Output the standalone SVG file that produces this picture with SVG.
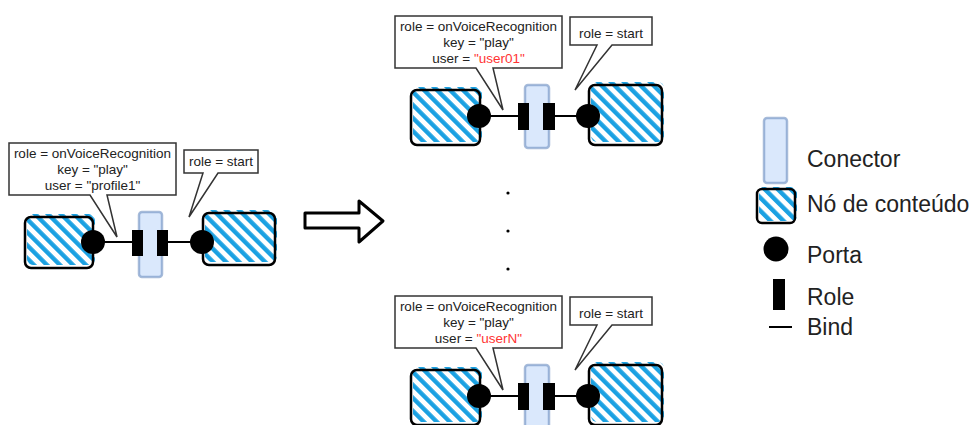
<svg xmlns="http://www.w3.org/2000/svg" width="977" height="425" viewBox="0 0 977 425">
<style>
.callout{fill:#fff;stroke:#333;stroke-width:1.5;stroke-linejoin:miter}
.ct{font-family:"Liberation Sans",Arial,sans-serif;font-size:13.5px;fill:#222;text-anchor:middle}
.red{fill:#ff3333}
.hatch{fill:url(#hatch);stroke:none}
.nodeo{fill:none;stroke:#000;stroke-width:2.5}
.conn{fill:#dae8fc;stroke:#6c8ebf;stroke-opacity:0.6;stroke-width:2.5}
.bind{stroke:#000;stroke-width:2}
.role{fill:#000}
.port{fill:#000}
.leg{font-family:"Liberation Sans",Arial,sans-serif;font-size:23px;fill:#222}
</style>
<defs>
<pattern id="hatch" patternUnits="userSpaceOnUse" width="9.2" height="9.2" patternTransform="rotate(-45)">
<rect x="0" y="0" width="4.4" height="9.2" fill="#1ba1e2"/>
</pattern>
</defs>

<!-- Left composite -->
<g id="left-callout-1">
<path class="callout" d="M9,143 H176 V195 H107 L117,237 L90,195 H9 Z"/>
<text class="ct" x="92.5" y="158">role = onVoiceRecognition</text>
<text class="ct" x="92.5" y="174">key = "play"</text>
<text class="ct" x="92.5" y="190">user = "profile1"</text>
</g>
<g id="left-callout-2">
<path class="callout" d="M184,150 H258 V173 H218 L189,217 L203,173 H184 Z"/>
<text class="ct" x="221" y="166">role = start</text>
</g>
<g id="left-node-a">
<rect class="hatch" x="27" y="214" width="68" height="51" rx="6"/>
<rect class="nodeo" x="25" y="217" width="68" height="51" rx="6"/>
</g>
<g id="left-node-b">
<rect class="hatch" x="205" y="210" width="72" height="52" rx="6"/>
<rect class="nodeo" x="203" y="213" width="72" height="52" rx="6"/>
</g>
<g id="left-connector"><rect class="conn" x="139" y="212" width="23" height="65" rx="3"/></g>
<g id="left-binds">
<line class="bind" x1="93" y1="242" x2="133" y2="242"/>
<line class="bind" x1="167" y1="242" x2="202" y2="242"/>
</g>
<g id="left-role-a"><rect class="role" x="132" y="230" width="11" height="26"/></g>
<g id="left-role-b"><rect class="role" x="157" y="230" width="11" height="26"/></g>
<g id="left-port-a"><circle class="port" cx="93" cy="242" r="12"/></g>
<g id="left-port-b"><circle class="port" cx="202" cy="242" r="12"/></g>

<!-- Top composite -->
<g transform="translate(386,-127)">
<g id="top-callout-1">
<path class="callout" d="M9,143 H176 V195 H107 L117,237 L90,195 H9 Z"/>
<text class="ct" x="92.5" y="158">role = onVoiceRecognition</text>
<text class="ct" x="92.5" y="174">key = "play"</text>
<text class="ct" x="92.5" y="190">user = <tspan class="red">"user01"</tspan></text>
</g>
<g id="top-callout-2">
<path class="callout" d="M184,144 H266 V172 H226 L189,217 L211,172 H184 Z"/>
<text class="ct" x="225" y="165">role = start</text>
</g>
<g id="top-node-a">
<rect class="hatch" x="27" y="214" width="69" height="55" rx="6"/>
<rect class="nodeo" x="25" y="217" width="69" height="55" rx="6"/>
</g>
<g id="top-node-b">
<rect class="hatch" x="205" y="209" width="73" height="60" rx="6"/>
<rect class="nodeo" x="203" y="212" width="73" height="60" rx="6"/>
</g>
<g id="top-connector"><rect class="conn" x="139" y="212" width="24" height="63" rx="3"/></g>
<g id="top-binds">
<line class="bind" x1="93" y1="243" x2="133" y2="243"/>
<line class="bind" x1="167" y1="243" x2="202" y2="243"/>
</g>
<g id="top-role-a"><rect class="role" x="132" y="230" width="11" height="27"/></g>
<g id="top-role-b"><rect class="role" x="157" y="230" width="12" height="27"/></g>
<g id="top-port-a"><circle class="port" cx="93" cy="243" r="12"/></g>
<g id="top-port-b"><circle class="port" cx="202" cy="243" r="12"/></g>
</g>

<!-- Bottom composite -->
<g transform="translate(386,153)">
<g id="bottom-callout-1">
<path class="callout" d="M9,143 H176 V195 H107 L117,237 L90,195 H9 Z"/>
<text class="ct" x="92.5" y="158">role = onVoiceRecognition</text>
<text class="ct" x="92.5" y="174">key = "play"</text>
<text class="ct" x="92.5" y="190">user = <tspan class="red">"userN"</tspan></text>
</g>
<g id="bottom-callout-2">
<path class="callout" d="M184,144 H266 V172 H226 L189,217 L211,172 H184 Z"/>
<text class="ct" x="225" y="165">role = start</text>
</g>
<g id="bottom-node-a">
<rect class="hatch" x="27" y="214" width="69" height="55" rx="6"/>
<rect class="nodeo" x="25" y="217" width="69" height="55" rx="6"/>
</g>
<g id="bottom-node-b">
<rect class="hatch" x="205" y="209" width="73" height="60" rx="6"/>
<rect class="nodeo" x="203" y="212" width="73" height="60" rx="6"/>
</g>
<g id="bottom-connector"><rect class="conn" x="139" y="212" width="24" height="63" rx="3"/></g>
<g id="bottom-binds">
<line class="bind" x1="93" y1="243" x2="133" y2="243"/>
<line class="bind" x1="167" y1="243" x2="202" y2="243"/>
</g>
<g id="bottom-role-a"><rect class="role" x="132" y="230" width="11" height="27"/></g>
<g id="bottom-role-b"><rect class="role" x="157" y="230" width="12" height="27"/></g>
<g id="bottom-port-a"><circle class="port" cx="93" cy="243" r="12"/></g>
<g id="bottom-port-b"><circle class="port" cx="202" cy="243" r="12"/></g>
</g>

<!-- Transformation arrow -->
<g id="arrow">
<polygon points="305,213 359,213 359,201 383,221 359,242 359,228 305,228" fill="#fff" stroke="#000" stroke-width="3" stroke-linejoin="round"/>
</g>
<g id="ellipsis">
<circle cx="508" cy="193" r="1.6" fill="#000"/>
<circle cx="508" cy="231" r="1.6" fill="#000"/>
<circle cx="508" cy="269" r="1.6" fill="#000"/>
</g>

<!-- Legend -->
<g id="legend">
<rect class="conn" x="764" y="118" width="23" height="65" rx="3"/>
<text class="leg" x="807" y="167">Conector</text>
<rect class="hatch" x="759" y="187" width="38" height="34" rx="5"/>
<rect class="nodeo" x="757" y="189" width="38" height="34" rx="5"/>
<text class="leg" x="807" y="212">Nó de conteúdo</text>
<circle class="port" cx="776" cy="249" r="12.5"/>
<text class="leg" x="807" y="263">Porta</text>
<rect class="role" x="773" y="279" width="12" height="31"/>
<text class="leg" x="807" y="305">Role</text>
<line class="bind" x1="769" y1="327" x2="792" y2="327" stroke-width="2.5"/>
<text class="leg" x="807" y="335">Bind</text>
</g>
</svg>
